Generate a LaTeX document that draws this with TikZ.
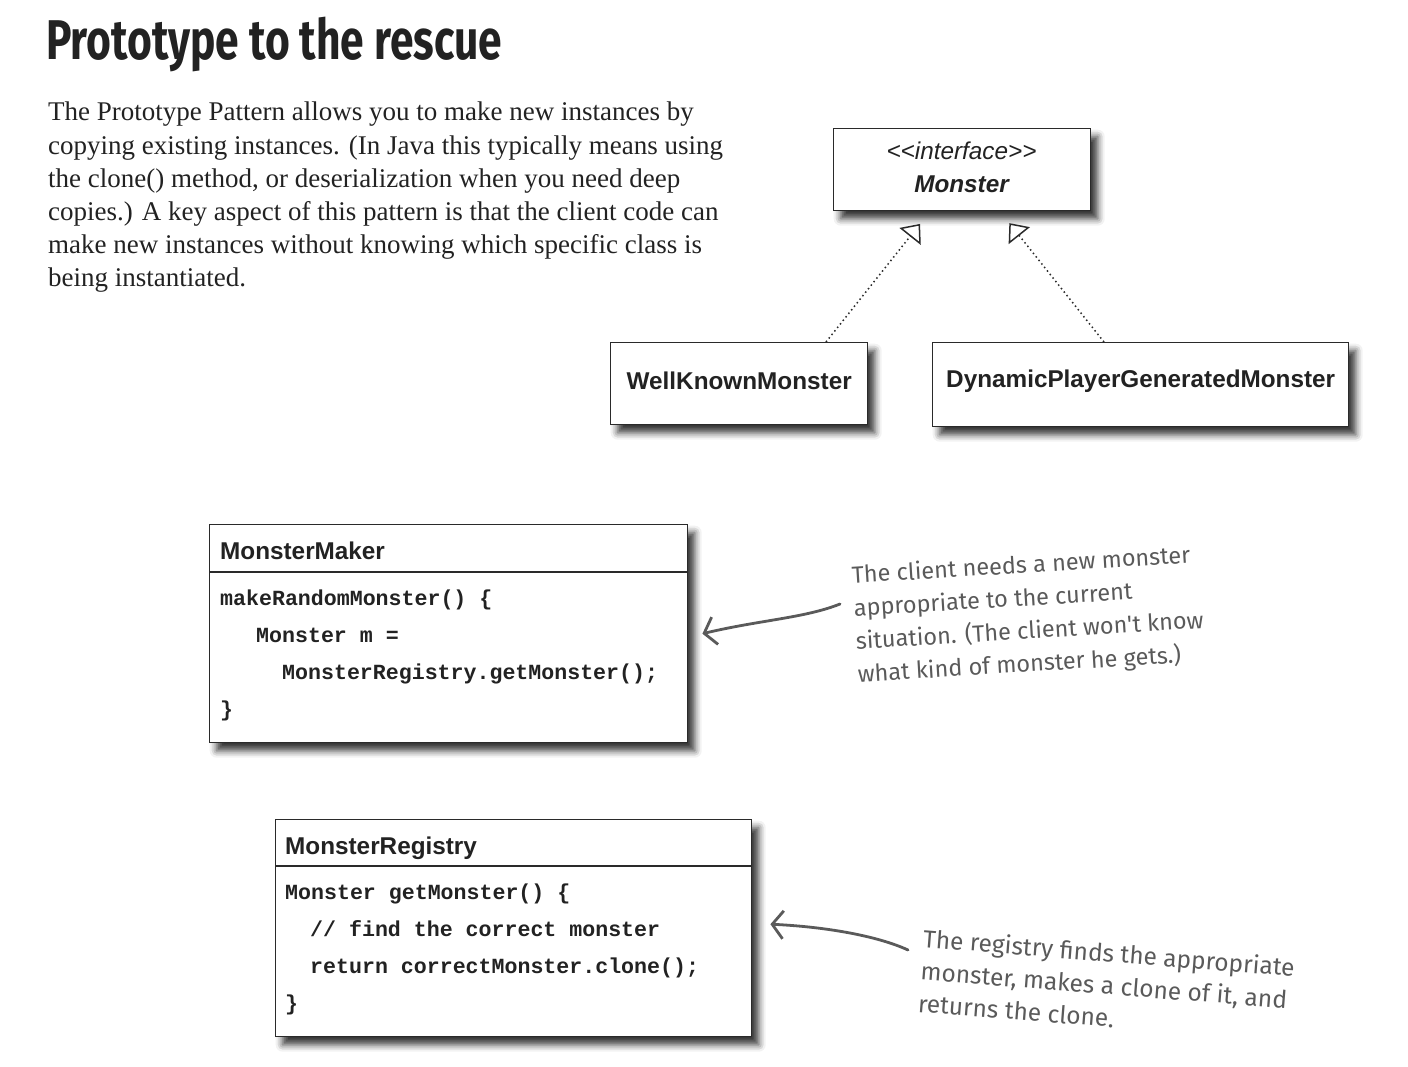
\documentclass[tikz,border=0pt]{standalone}
\usepackage{fontspec}
\setsansfont{Liberation Sans}
\setmonofont{Liberation Mono}
\newfontfamily\introfont{Liberation Serif}
\newfontfamily\handfont{Fira Sans}
\newfontfamily\titlefont{Fira Sans}
\usetikzlibrary{arrows.meta,shadows.blur,calc}
\definecolor{ink}{HTML}{222222}
\definecolor{hand}{HTML}{5A5A5A}
\definecolor{boxline}{HTML}{2A2A2A}
\tikzset{
  umlbox/.style={draw=boxline, line width=1.4pt, fill=white, inner sep=0pt,
    blur shadow={shadow xshift=7pt, shadow yshift=-8pt, shadow blur radius=7pt, shadow opacity=80}},
  umltext/.style={font=\sffamily\fontsize{24.3}{27}\selectfont, text=ink, inner sep=0pt},
  umlbold/.style={font=\sffamily\bfseries\fontsize{24.3}{27}\selectfont, text=ink, inner sep=0pt},
  codetext/.style={font=\ttfamily\bfseries\fontsize{21.6}{26}\selectfont, text=ink, inner sep=0pt, anchor=base west},
  realize/.style={line width=1.5pt, draw=boxline, dash pattern=on 1.5pt off 3pt,
    -{Triangle[open, length=16pt, width=27pt, line width=1.5pt, sep=0pt]}},
  handarrow/.style={line width=2.8pt, draw=hand, line cap=round,
    -{Straight Barb[length=11pt, width=28pt, line width=2.8pt]}},
  handnote/.style={text=hand, align=left, inner sep=0pt, anchor=north west}
}
\begin{document}
\begin{tikzpicture}[x=1pt, y=-1pt]
\useasboundingbox (0,0) rectangle (1408,1067);

% title and intro
\node[anchor=base west, inner sep=0pt, text=ink] (title) at (46,60)
  {\scalebox{0.76}[1]{\titlefont\bfseries\fontsize{56}{60}\selectfont Prototype to the rescue}};
\node[anchor=north west, inner sep=0pt, align=left, text=ink,
  font=\introfont\fontsize{27}{33.2}\selectfont] (intro) at (48,102)
  {The Prototype Pattern allows you to make new instances by\\
   copying existing instances. (In Java this typically means using\\
   the clone() method, or deserialization when you need deep\\
   copies.) A key aspect of this pattern is that the client code can\\
   make new instances without knowing which specific class is\\
   being instantiated.};

% interface Monster
\node[umlbox, anchor=north west, minimum width=257pt, minimum height=82pt] (mon) at (833,128) {};
\node[umltext, anchor=base] (monst) at (961.5,160) {\itshape {<}{<}interface{>}{>}};
\node[umlbold, anchor=base] (monname) at (961.5,193) {\itshape Monster};

% concrete monsters
\node[umlbox, anchor=north west, minimum width=257pt, minimum height=82pt] (wk) at (610,342) {};
\node[umlbold] (wkname) at ($(wk.center)+(0,-3)$) {WellKnownMonster};
\node[umlbox, anchor=north west, minimum width=416pt, minimum height=84pt] (dyn) at (932,342) {};
\node[umlbold] (dynname) at ($(dyn.center)+(0,-3)$) {DynamicPlayerGeneratedMonster};

\draw[realize, shorten >=16pt] ($(wk.north west)+(216,0)$) -- ($(mon.south west)+(97,0)$);
\draw[realize, shorten >=15pt] ($(dyn.north west)+(172,0)$) -- ($(mon.south west)+(167,0)$);

% MonsterMaker
\node[umlbox, anchor=north west, minimum width=478pt, minimum height=218pt] (mm) at (209,524) {};
\draw[draw=boxline, line width=1.2pt] ($(mm.north west)+(0,48)$) -- ($(mm.north east)+(0,48)$);
\node[umlbold, anchor=base west] (mmname) at (220,559) {MonsterMaker};
\node[codetext] (mm1) at (220,605) {makeRandomMonster() \{};
\node[codetext] (mm2) at (256,642) {Monster m =};
\node[codetext] (mm3) at (282,679) {MonsterRegistry.getMonster();};
\node[codetext] (mm4) at (220,716) {\}};

% MonsterRegistry
\node[umlbox, anchor=north west, minimum width=476pt, minimum height=217pt] (mr) at (275,819) {};
\draw[draw=boxline, line width=1.2pt] ($(mr.north west)+(0,47)$) -- ($(mr.north east)+(0,47)$);
\node[umlbold, anchor=base west] (mrname) at (285,854) {MonsterRegistry};
\node[codetext] (mr1) at (285,899) {Monster getMonster() \{};
\node[codetext] (mr2) at (310,936) {// find the correct monster};
\node[codetext] (mr3) at (310,973) {return correctMonster.clone();};
\node[codetext] (mr4) at (285,1010) {\}};

% annotations
\node[handnote, rotate=3.5, font=\handfont\fontsize{23.5}{33}\selectfont] (note1) at (851,565)
  {The client needs a new monster\\appropriate to the current\\situation. (The client won't know\\what kind of monster he gets.)};
\coordinate (n1s) at (840,604);
\draw[handarrow] (n1s) .. controls (805,618) and (760,620) .. ($(mm.east)+(14,0)$);

\node[handnote, rotate=-4.5, font=\handfont\fontsize{24.5}{32.5}\selectfont] (note2) at (924,928)
  {The registry finds the appropriate\\monster, makes a clone of it, and\\returns the clone.};
\coordinate (n2s) at (908,950);
\draw[handarrow] (n2s) .. controls (880,937) and (830,927) .. ($(mr.east)+(18,-4)$);
\end{tikzpicture}
\end{document}
